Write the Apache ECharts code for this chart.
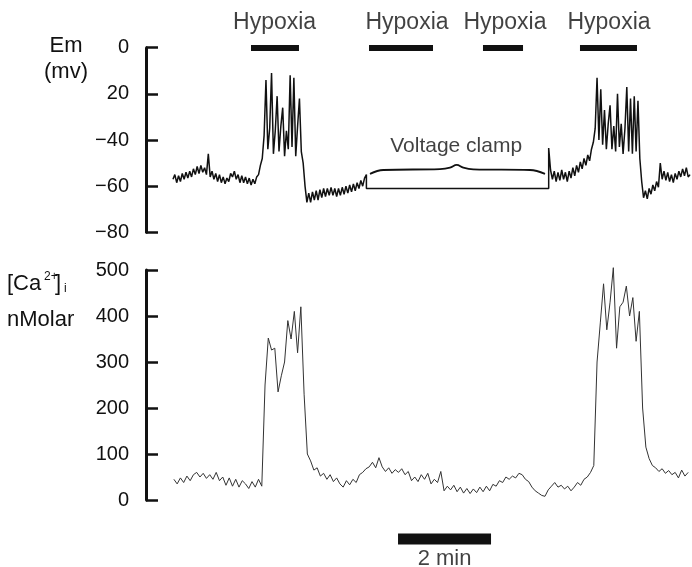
<!DOCTYPE html>
<html><head><meta charset="utf-8">
<script src="https://cdn.jsdelivr.net/npm/echarts@6/dist/echarts.min.js"></script>
<style>html,body{margin:0;padding:0;background:#fff}#c{width:692px;height:567px}</style>
</head><body><div id="c"></div>
<script>
const FONT = "'Liberation Sans', Arial, Helvetica, sans-serif";

// ---- data (time in minutes) ----
const emTickValues = [-80, -60, -40, -20, 0];
const emTickLabels = ['\u221280', '\u221260', '\u221240', '20', '0'];
const caTickValues = [0, 100, 200, 300, 400, 500];
const caTickLabels = ['0', '100', '200', '300', '400', '500'];

const EM_A_T0 = 0.58, EM_B_T0 = 8.70, EM_DT = 0.04;
const emSegA = [
-57,-55,-58.5,-55.5,-58,-54.5,-57,-54,-56.5,-53.5,
-56,-52.5,-55,-51.5,-54.5,-51,-54,-52,-55,-46,
-56,-53.5,-57,-54.5,-58,-55,-58.5,-56,-59,-56.5,
-58,-54.5,-56,-53.5,-57,-55,-58.5,-55.5,-58.5,-56,
-59,-56.5,-59.5,-57,-59,-56,-55,-51,-48,-38,
-14,-44,-35,-11,-46,-36,-21,-45,-34,-26,
-47,-36,-44,-12,-43,-13,-47,-34,-22,-45,
-50,-60,-67,-63,-67,-62.5,-66,-62,-66,-61.5,
-65,-61,-64.5,-61,-64,-60.5,-64,-61,-64.5,-61,
-64,-60.5,-63.5,-60,-63,-59.5,-62.5,-59,-62,-58.5,
-61,-57.5,-60,-56.5,-55
];
const emClamp = [[4.74, -61], [8.66, -61], [8.66, -43.5]];
const emSegB = [
-53,-57,-53.5,-58,-54,-57.5,-53,-57,-54,-58,
-53.5,-56.5,-52,-55.5,-51,-54,-49.5,-52.5,-48,-51,
-46.5,-49,-44,-41,-35,-13,-40,-18,-42,-27,
-44,-33,-25,-44,-34,-45,-20,-43,-33,-46,
-35,-17,-45,-22,-46,-21,-45,-23,-48,-58,
-65,-62,-65.5,-61,-63.5,-59.5,-62,-58,-60.5,-50,
-57,-53.5,-57.5,-54,-58,-55,-58.5,-54.5,-57,-53.5,
-56,-52.5,-55.5,-52,-56,-55
];

const CA_T0 = 0.6, CA_DT = 0.07;
const caValues = [
45,35,48,38,52,42,55,60,50,58,
47,55,45,60,42,50,32,48,30,45,
28,42,35,25,40,28,45,30,250,352,
326,330,235,270,300,390,350,410,320,420,
230,100,85,65,70,52,58,45,55,40,
48,35,28,42,33,45,38,55,60,68,
72,82,70,92,72,62,70,58,66,60,
68,55,62,42,50,40,55,45,58,35,
45,38,62,20,30,22,32,18,28,15,
25,14,24,16,28,18,30,20,34,30,
42,38,50,45,52,48,58,55,45,40,
28,20,15,10,8,22,30,38,28,32,
24,30,20,28,38,32,45,50,60,75,
300,385,470,370,430,505,330,420,430,465,
400,440,345,410,200,115,90,75,70,62,
68,58,64,55,60,48,65,52,60
];

const hypoxiaStart = [2.258, 4.796, 7.247, 9.333];
const hypoxiaEnd   = [3.290, 6.172, 8.108, 10.559];
const hypoxiaLabelT = [2.766, 5.613, 7.720, 9.957];
const hypoxiaLabel = 'Hypoxia';

const braceT = [4.817, 5.104, 6.323, 6.538, 6.682, 6.824, 7.039, 8.258, 8.581];
const braceV = [-54.7, -53.0, -52.6, -52.0, -50.8, -52.0, -52.7, -53.0, -54.7];
const clampLabel = 'Voltage clamp';
const clampLabelPos = [6.67, -42.6];

const scaleBar = [5.42, 7.42];
const scaleLabel = '2 min';

// ---- build ----
const X_MAX = 11.742;
const emData = [];
emSegA.forEach((v, i) => emData.push([EM_A_T0 + i * EM_DT, v]));
emClamp.forEach(p => emData.push(p));
emSegB.forEach((v, i) => emData.push([EM_B_T0 + i * EM_DT, v]));
const caData = caValues.map((v, i) => [CA_T0 + i * CA_DT, v]);
const braceData = braceT.map((t, i) => [t, braceV[i]]);

const axisLine = {show: true, onZero: false, lineStyle: {color: '#111', width: 3}};
const axisTick = {show: true, inside: true, length: 12, lineStyle: {color: '#111', width: 2.5}};
const labelBase = {fontSize: 20, color: '#111', fontFamily: FONT, margin: 17};

const xHidden = (g) => ({gridIndex: g, type: 'value', min: 0, max: X_MAX, show: false});

const chart = echarts.init(document.getElementById('c'), null, {renderer: 'canvas'});
chart.setOption({
  animation: false,
  backgroundColor: '#fff',
  grid: [
    {left: 146, right: 0, top: 47.7, height: 184.6},
    {left: 146, right: 0, top: 270, height: 230},
    {left: 146, right: 0, top: 531, height: 16}
  ],
  xAxis: [xHidden(0), xHidden(1), xHidden(2)],
  yAxis: [
    {gridIndex: 0, type: 'value', min: -80, max: 0, interval: 20,
     axisLine, axisTick, splitLine: {show: false},
     axisLabel: Object.assign({}, labelBase, {formatter: v => emTickLabels[emTickValues.indexOf(v)]})},
    {gridIndex: 1, type: 'value', min: 0, max: 500, interval: 100,
     axisLine, axisTick, splitLine: {show: false},
     axisLabel: Object.assign({}, labelBase, {formatter: v => caTickLabels[caTickValues.indexOf(v)]})},
    {gridIndex: 2, type: 'value', min: 0, max: 1, show: false}
  ],
  graphic: [
    {type: 'text', x: 66, y: 46, style: {text: 'Em', font: '22px ' + FONT, fill: '#111', textAlign: 'center', textVerticalAlign: 'middle'}},
    {type: 'text', x: 66, y: 72, style: {text: '(mv)', font: '22px ' + FONT, fill: '#111', textAlign: 'center', textVerticalAlign: 'middle'}},
    {type: 'text', x: 7, y: 284, style: {text: '[Ca', font: '22px ' + FONT, fill: '#111', textAlign: 'left', textVerticalAlign: 'middle'}},
    {type: 'text', x: 44, y: 277, style: {text: '2+', font: '12px ' + FONT, fill: '#111', textAlign: 'left', textVerticalAlign: 'middle'}},
    {type: 'text', x: 55, y: 284, style: {text: ']', font: '22px ' + FONT, fill: '#111', textAlign: 'left', textVerticalAlign: 'middle'}},
    {type: 'text', x: 64, y: 289, style: {text: 'i', font: '12px ' + FONT, fill: '#111', textAlign: 'left', textVerticalAlign: 'middle'}},
    {type: 'text', x: 7, y: 320, style: {text: 'nMolar', font: '22px ' + FONT, fill: '#111', textAlign: 'left', textVerticalAlign: 'middle'}}
  ],
  series: [
    {type: 'line', xAxisIndex: 0, yAxisIndex: 0, data: emData, showSymbol: false, symbol: 'none',
     lineStyle: {color: '#111', width: 1.5}, clip: false, silent: true,
     markLine: {silent: true, symbol: ['none', 'none'], label: {show: false},
       lineStyle: {type: 'solid', width: 6, color: '#111', cap: 'butt'},
       data: hypoxiaStart.map((s, i) => [{coord: [s, 0]}, {coord: [hypoxiaEnd[i], 0]}])}},
    {type: 'scatter', xAxisIndex: 0, yAxisIndex: 0, symbolSize: 0, silent: true, clip: false,
     data: hypoxiaLabelT.map(t => [t, 0]),
     label: {show: true, position: 'top', distance: 14, formatter: hypoxiaLabel,
       fontSize: 23, color: '#111', fontFamily: FONT}},
    {type: 'line', xAxisIndex: 0, yAxisIndex: 0, data: braceData, smooth: 0.4, symbol: 'none',
     lineStyle: {color: '#111', width: 1.8}, silent: true},
    {type: 'scatter', xAxisIndex: 0, yAxisIndex: 0, symbolSize: 0, silent: true,
     data: [clampLabelPos],
     label: {show: true, position: 'inside', formatter: clampLabel, fontSize: 21, color: '#111', fontFamily: FONT}},
    {type: 'line', xAxisIndex: 1, yAxisIndex: 1, data: caData, symbol: 'none', clip: false,
     lineStyle: {color: '#333', width: 1}, silent: true},
    {type: 'line', xAxisIndex: 2, yAxisIndex: 2, data: scaleBar.map(t => [t, 0.5]), symbol: 'none',
     lineStyle: {color: '#111', width: 11, cap: 'butt'}, silent: true},
    {type: 'scatter', xAxisIndex: 2, yAxisIndex: 2, symbolSize: 0, silent: true, clip: false,
     data: [[(scaleBar[0] + scaleBar[1]) / 2, 0]],
     label: {show: true, position: 'bottom', distance: 1, formatter: scaleLabel, fontSize: 22, color: '#111', fontFamily: FONT}}
  ]
});
</script></body></html>
